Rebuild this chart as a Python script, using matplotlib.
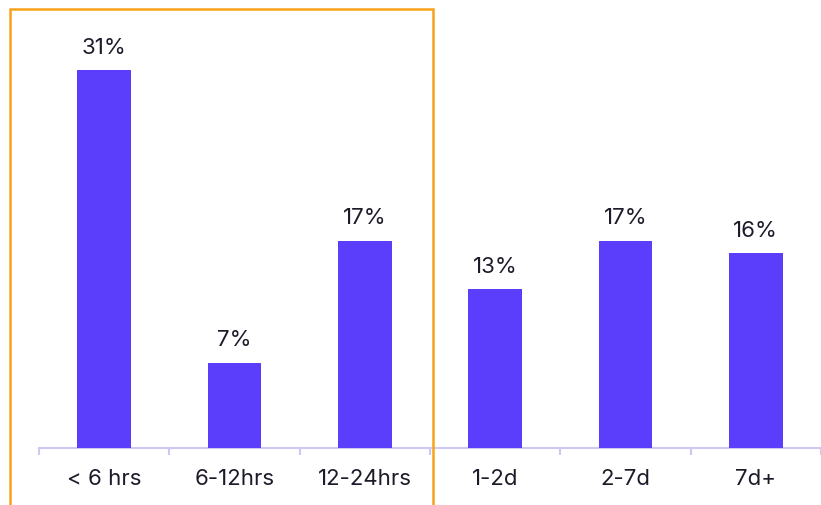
import numpy as np
import matplotlib.pyplot as plt
from matplotlib.patches import Rectangle

# data
categories = ['< 6 hrs', '6-12hrs', '12-24hrs', '1-2d', '2-7d', '7d+']
values = [31, 7, 17, 13, 17, 16]

bar_color = '#5b3dfc'
axis_color = '#cfc8f5'
text_color = '#1c1b29'
orange = '#f7a21b'

plt.rcParams['font.family'] = ['Inter', 'DejaVu Sans']

W, H = 821, 505
fig = plt.figure(figsize=(W / 100, H / 100), dpi=100)

# axes placed in pixel terms: baseline at y=448, first boundary at x=39
left, base, top = 39, 448, 8
ax = fig.add_axes([left / W, (H - base) / H, (W - left) / W, (base - top) / H])

step = 130.8  # pixels per category
x = np.arange(len(categories))
ax.bar(x, values, width=0.41, color=bar_color, zorder=3)
ax.set_xlim(-0.5, -0.5 + (W - left) / step)
ax.set_ylim(0, (base - top) / 12.2)

for xi, v in zip(x, values):
    ax.text(xi, v + 1.0, f'{v}%', ha='center', va='bottom',
            fontsize=16, color=text_color)

for s in ['top', 'right', 'left']:
    ax.spines[s].set_visible(False)
ax.spines['bottom'].set_color(axis_color)
ax.spines['bottom'].set_linewidth(1.5)
ax.set_yticks([])

ax.set_xticks(x)
ax.set_xticklabels(categories, fontsize=16, color=text_color)
ax.tick_params(axis='x', which='major', length=0, pad=15)
ax.set_xticks(np.arange(-0.5, len(categories), 1.0), minor=True)
ax.tick_params(axis='x', which='minor', length=5, width=1.5, color=axis_color)

# orange highlight box around the first three categories
fig.patches.append(Rectangle((10 / W, -0.05), (433 - 10) / W, 1.05 - 9 / H,
                             transform=fig.transFigure, fill=False,
                             edgecolor=orange, linewidth=1.8, zorder=5))

fig.savefig('out.png', dpi=100)
